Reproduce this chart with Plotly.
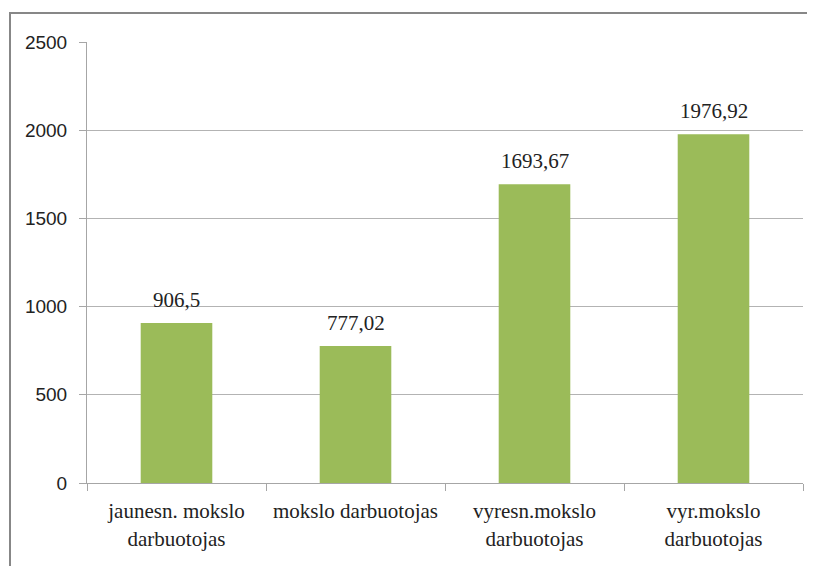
import plotly.graph_objects as go

categories = ["jaunesn. mokslo<br>darbuotojas", "mokslo darbuotojas",
              "vyresn.mokslo<br>darbuotojas", "vyr.mokslo<br>darbuotojas"]
values = [906.5, 777.02, 1693.67, 1976.92]
y_ticks = [0, 500, 1000, 1500, 2000, 2500]

labels = [str(v).replace(".", ",") for v in values]
SERIF = "'Liberation Serif', serif"

fig = go.Figure(go.Bar(
    x=categories, y=values,
    marker=dict(color="#9bbb59", line=dict(width=0)),
    width=0.4,
))

# data labels a bit above the bars
for c, v, t in zip(categories, values, labels):
    fig.add_annotation(x=c, y=v, text=t, showarrow=False, yanchor="bottom", yshift=9,
                       font=dict(family=SERIF, size=21, color="#222"))

# the page body has an 8px margin, so subtract it from the pixel targets
OFF = 8
L, R, T, B = 87 - OFF, 12 + OFF, 42 - OFF, 83 + OFF
W, H = 815 - L - R, 566 - T - B
fx = lambda px: (px - OFF - L) / W
fy = lambda py: (566 - B - (py - OFF)) / H

fig.add_shape(type="path", xref="paper", yref="paper",
              path=f"M {fx(10)} {fy(600)} L {fx(10)} {fy(13)} L {fx(840)} {fy(13)}",
              line=dict(color="#878787", width=2))

fig.update_layout(
    width=815, height=566,
    margin=dict(l=L, r=R, t=T, b=B),
    paper_bgcolor="white", plot_bgcolor="white",
    showlegend=False,
    xaxis=dict(showline=True, linecolor="#a6a6a6", linewidth=1,
               ticks="outside", tickson="boundaries", ticklen=7, tickcolor="#a6a6a6",
               ticklabelstandoff=9,
               tickfont=dict(family=SERIF, size=21, color="#222"),
               showgrid=False),
    yaxis=dict(range=[0, 2500], tickvals=y_ticks, showline=True, linecolor="#a6a6a6",
               linewidth=1, ticks="outside", ticklen=7, tickcolor="#a6a6a6",
               ticklabelstandoff=8,
               gridcolor="#b3b3b3", gridwidth=1, zeroline=False,
               tickfont=dict(family="'Liberation Sans', sans-serif", size=19, color="#222")),
)

fig.write_html("out.html")
